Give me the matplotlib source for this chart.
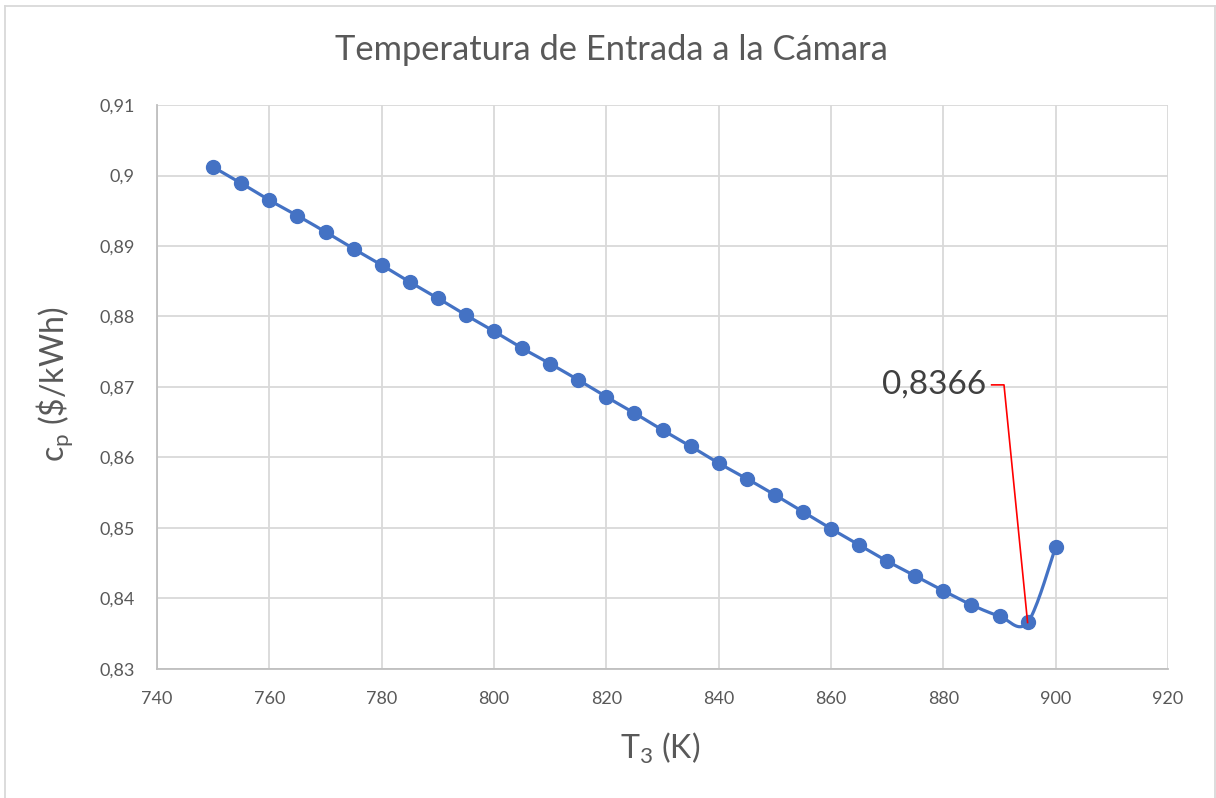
import matplotlib
matplotlib.use("Agg")
import matplotlib.pyplot as plt
import numpy as np
from matplotlib.ticker import FuncFormatter, MultipleLocator
from matplotlib.lines import Line2D

plt.rcParams['font.family'] = ['Lato', 'DejaVu Sans']

# inlet temperature to the combustion chamber (K) vs production cost ($/kWh)
t3 = [750, 755, 760, 765, 770, 775, 780, 785, 790, 795, 800, 805, 810, 815,
      820, 825, 830, 835, 840, 845, 850, 855, 860, 865, 870, 875, 880, 885,
      890, 895, 900]
cp = [0.9012, 0.8989, 0.8965, 0.8943, 0.8920, 0.8896, 0.8873, 0.8849,
      0.8826, 0.8802, 0.8779, 0.8755, 0.8733, 0.8710, 0.8686, 0.8663,
      0.8639, 0.8616, 0.8592, 0.8570, 0.8547, 0.8523, 0.8499, 0.8476,
      0.8453, 0.8432, 0.8411, 0.8391, 0.8375, 0.8366, 0.8473]

min_label = "0,8366"
min_t3 = 895
min_cp = 0.8366

TEXT = '#595959'
BLUE = '#4472C4'
GRID = '#d9d9d9'


def smooth_line(x, y, steps=20):
    # bezier segments with catmull-rom control points (like Excel "smoothed line")
    x = np.asarray(x, float)
    y = np.asarray(y, float)
    px = np.concatenate([[x[0]], x, [x[-1]]])
    py = np.concatenate([[y[0]], y, [y[-1]]])
    t = np.linspace(0, 1, steps)
    xs, ys = [], []
    for i in range(1, len(px) - 2):
        p0 = np.array([px[i], py[i]])
        p3 = np.array([px[i + 1], py[i + 1]])
        p1 = p0 + (p3 - np.array([px[i - 1], py[i - 1]])) / 6
        p2 = p3 - (np.array([px[i + 2], py[i + 2]]) - p0) / 6
        pts = ((1 - t) ** 3)[:, None] * p0 + (3 * (1 - t) ** 2 * t)[:, None] * p1 \
            + (3 * (1 - t) * t ** 2)[:, None] * p2 + (t ** 3)[:, None] * p3
        xs.extend(pts[:, 0])
        ys.extend(pts[:, 1])
    return np.array(xs), np.array(ys)


fig = plt.figure(figsize=(12.16, 7.98), dpi=100)
ax = fig.add_axes([157 / 1216, 1 - 669 / 798, (1168 - 157) / 1216, (669 - 105) / 798])

sx, sy = smooth_line(t3, cp)
ax.plot(sx, sy, color=BLUE, lw=2.3, solid_capstyle='round', zorder=3)
ax.plot(t3, cp, 'o', color=BLUE, markersize=10, zorder=4)

ax.set_xlim(740, 920)
ax.set_ylim(0.83, 0.91)
ax.xaxis.set_major_locator(MultipleLocator(20))
ax.yaxis.set_major_locator(MultipleLocator(0.01))
ax.yaxis.set_major_formatter(FuncFormatter(lambda v, p: '{:g}'.format(round(v, 4)).replace('.', ',')))

ax.grid(True, color=GRID, lw=1.3)
ax.set_axisbelow(True)
for side in ['top', 'right']:
    ax.spines[side].set_visible(False)
for side in ['left', 'bottom']:
    ax.spines[side].set_color('#bfbfbf')
    ax.spines[side].set_linewidth(1.3)
ax.tick_params(length=0, labelsize=13, labelcolor=TEXT, pad=16)

ax.set_xlabel('T$_\\mathregular{3}$ (K)', fontsize=23, color=TEXT)
ax.xaxis.label.set_va('center')
ax.xaxis.set_label_coords(0.498, -0.14)
ax.set_ylabel('c$_\\mathregular{p}$ (\\$/kWh)', fontsize=23, color=TEXT)
ax.yaxis.label.set_va('center')
ax.yaxis.set_label_coords(-0.1, 0.505)

# label and leader line for the minimum
ax.text(887.6, 0.8703, min_label, fontsize=24, color='#404040', ha='right', va='center')
ax.plot([888.6, 890.8, min_t3], [0.8703, 0.8703, min_cp], color='red', lw=1.2, zorder=5)

fig.text(611 / 1216, 1 - 50 / 798, 'Temperatura de Entrada a la Cámara',
         fontsize=24.8, color=TEXT, ha='center', va='center')

# chart frame
bx0, bx1, by = 5 / 1216, 1215 / 1216, 1 - 6 / 798
for xs_, ys_ in [([bx0, bx0], [0, by]), ([bx0, bx1], [by, by]), ([bx1, bx1], [by, 0])]:
    fig.add_artist(Line2D(xs_, ys_, color=GRID, lw=1.3, transform=fig.transFigure))

fig.savefig('out.png', dpi=100)
